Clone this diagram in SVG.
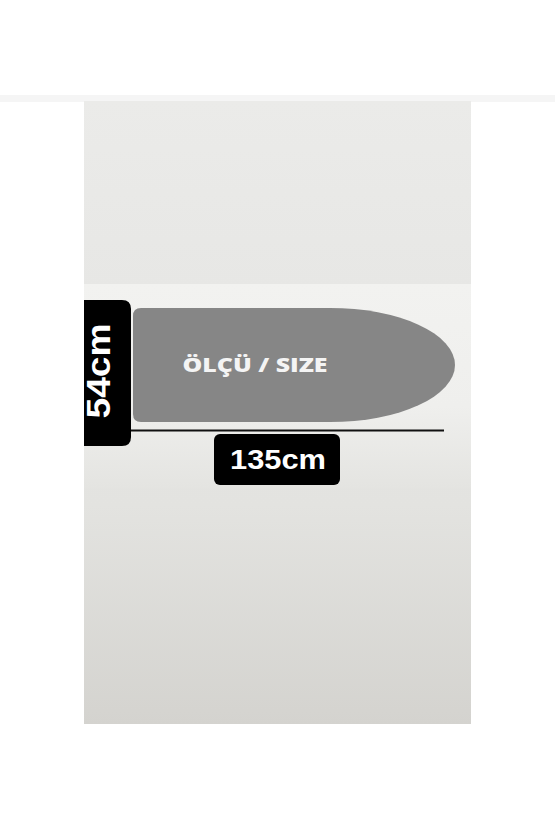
<svg xmlns="http://www.w3.org/2000/svg" width="555" height="832" viewBox="0 0 555 832">
<defs>
<linearGradient id="panel" x1="0" y1="0" x2="0" y2="1">
<stop offset="0" stop-color="#ebebe9"/>
<stop offset="0.3" stop-color="#e7e7e5"/>
<stop offset="0.65" stop-color="#e3e3e0"/>
<stop offset="1" stop-color="#d4d3cf"/>
</linearGradient>
<linearGradient id="band" x1="0" y1="0" x2="0" y2="1">
<stop offset="0" stop-color="#f2f2f0"/>
<stop offset="0.6" stop-color="#efefed"/>
<stop offset="1" stop-color="#e4e4e1"/>
</linearGradient>
<style>
.lbl{font-family:"Liberation Sans",Arial,sans-serif;font-weight:bold;fill:#ffffff}
.box{fill:#000000}
</style>
</defs>
<rect width="555" height="832" fill="#ffffff"/>
<rect x="0" y="95" width="555" height="7" fill="#f5f5f5"/>
<rect x="84" y="101" width="387" height="623" fill="url(#panel)"/>
<rect x="84" y="284" width="387" height="204" fill="url(#band)"/>
<g id="board">
<path d="M141,308 H330 A125 57 0 0 1 330,422 H141 Q133,422 133,414 V316 Q133,308 141,308 Z" fill="#868686"/>
<text x="255" y="372" text-anchor="middle" font-family="'Open Sans','Liberation Sans',sans-serif" font-weight="800" font-size="20" fill="#f4f4f4" textLength="145" lengthAdjust="spacingAndGlyphs">ÖLÇÜ / SIZE</text>
</g>
<g id="connectors">
<line x1="130" y1="430.5" x2="444" y2="430.5" stroke="#111111" stroke-width="2"/>
</g>
<g id="height-label">
<path class="box" d="M84,300 H122 Q131,300 131,309 V437 Q131,446 122,446 H84 Z"/>
<text class="lbl" transform="translate(110,371) rotate(-90)" text-anchor="middle" font-size="34" textLength="95" lengthAdjust="spacingAndGlyphs">54cm</text>
</g>
<g id="width-label">
<rect class="box" x="214" y="434" width="126" height="51" rx="6"/>
<text class="lbl" x="278" y="469" text-anchor="middle" font-size="27" textLength="96" lengthAdjust="spacingAndGlyphs">135cm</text>
</g>
</svg>
